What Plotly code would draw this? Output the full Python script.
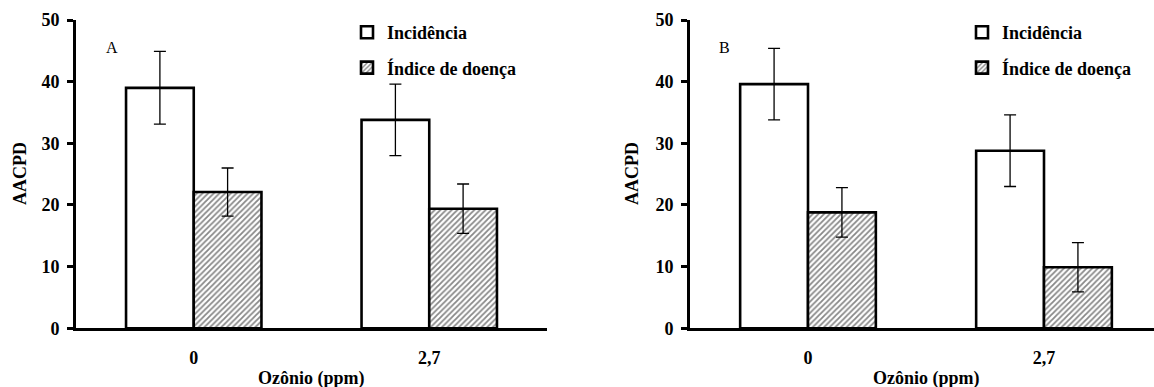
import plotly.graph_objects as go

# Ozone dose categories (x axis)
categories = ["0", "2,7"]

# Panel A: AACPD values and error-bar half-widths
incidencia_a = [39.0, 33.8]
incidencia_a_err = [5.9, 5.8]
indice_a = [22.1, 19.4]
indice_a_err = [3.9, 4.0]

# Panel B
incidencia_b = [39.6, 28.8]
incidencia_b_err = [5.8, 5.8]
indice_b = [18.8, 9.9]
indice_b_err = [4.0, 4.0]

y_ticks = [0, 10, 20, 30, 40, 50]

W, H = 1154, 387
FONT = "Liberation Serif"
FS = 18


def px_x(v):
    return v / W


def px_y(v):
    return (H - v) / H


fig = go.Figure()

err_style = dict(type="data", thickness=1.3, width=6, color="black")
edge = dict(color="black", width=2.6)
hatch = dict(shape="/", size=4, solidity=0.45, fgcolor="#111111", bgcolor="white")

panels = [
    ("x", "y", "legend", incidencia_a, incidencia_a_err, indice_a, indice_a_err),
    ("x2", "y2", "legend2", incidencia_b, incidencia_b_err, indice_b, indice_b_err),
]
for xa, ya, leg, inc, inc_err, idx, idx_err in panels:
    fig.add_trace(go.Bar(
        x=categories, y=inc, name="Incidência",
        marker=dict(color="white", line=edge),
        error_y=dict(array=inc_err, **err_style),
        xaxis=xa, yaxis=ya, legend=leg, legendgroup="inc",
    ))
    fig.add_trace(go.Bar(
        x=categories, y=idx, name="Índice de doença",
        marker=dict(color="white", line=edge, pattern=hatch),
        error_y=dict(array=idx_err, **err_style),
        xaxis=xa, yaxis=ya, legend=leg, legendgroup="idx",
    ))

bold = dict(family=FONT, size=FS, color="black", weight="bold")

y_dom = [px_y(328.3), px_y(20)]
yaxis_common = dict(
    range=[0, 50], tickvals=y_ticks, ticks="outside", ticklen=6, tickwidth=2.6,
    tickcolor="black", showline=True, linewidth=3, linecolor="black",
    showgrid=False, zeroline=False, domain=y_dom, automargin=False,
    ticklabelstandoff=4, tickfont=bold,
)
xaxis_common = dict(
    type="category", showline=True, linewidth=3, linecolor="black",
    ticks="", showgrid=False, zeroline=False, automargin=False,
    ticklabelstandoff=11, tickfont=bold,
)

legend_common = dict(
    font=bold, bgcolor="rgba(0,0,0,0)", borderwidth=0, tracegroupgap=9,
    xanchor="left", yanchor="top", traceorder="grouped",
)

fig.update_layout(
    width=W, height=H,
    margin=dict(l=0, r=0, t=0, b=0),
    paper_bgcolor="white", plot_bgcolor="white",
    barmode="group", bargap=0.425, bargroupgap=0,
    showlegend=True,
    xaxis=dict(domain=[px_x(76), px_x(547)], range=[-0.5, 1.5], anchor="y", **xaxis_common),
    yaxis=dict(anchor="x", **yaxis_common),
    xaxis2=dict(domain=[px_x(690), 1.0], range=[-0.5, -0.5 + 464 / 236], anchor="y2", **xaxis_common),
    yaxis2=dict(anchor="x2", **yaxis_common),
    legend=dict(x=px_x(347), y=px_y(14), **legend_common),
    legend2=dict(x=px_x(962), y=px_y(14), **legend_common),
    font=dict(family=FONT, color="black"),
)

annotations = [
    dict(text="A", x=px_x(112), y=px_y(47), font=dict(family=FONT, size=16, color="black")),
    dict(text="B", x=px_x(724), y=px_y(47), font=dict(family=FONT, size=16, color="black")),
    dict(text="AACPD", x=px_x(20), y=px_y(174), textangle=-90, font=bold),
    dict(text="AACPD", x=px_x(632), y=px_y(174), textangle=-90, font=bold),
    dict(text="Ozônio (ppm)", x=px_x(311), y=px_y(378), font=bold),
    dict(text="Ozônio (ppm)", x=px_x(926), y=px_y(378), font=bold),
]
for a in annotations:
    fig.add_annotation(xref="paper", yref="paper", showarrow=False,
                       xanchor="center", yanchor="middle", **a)

fig.write_html("out.html")
